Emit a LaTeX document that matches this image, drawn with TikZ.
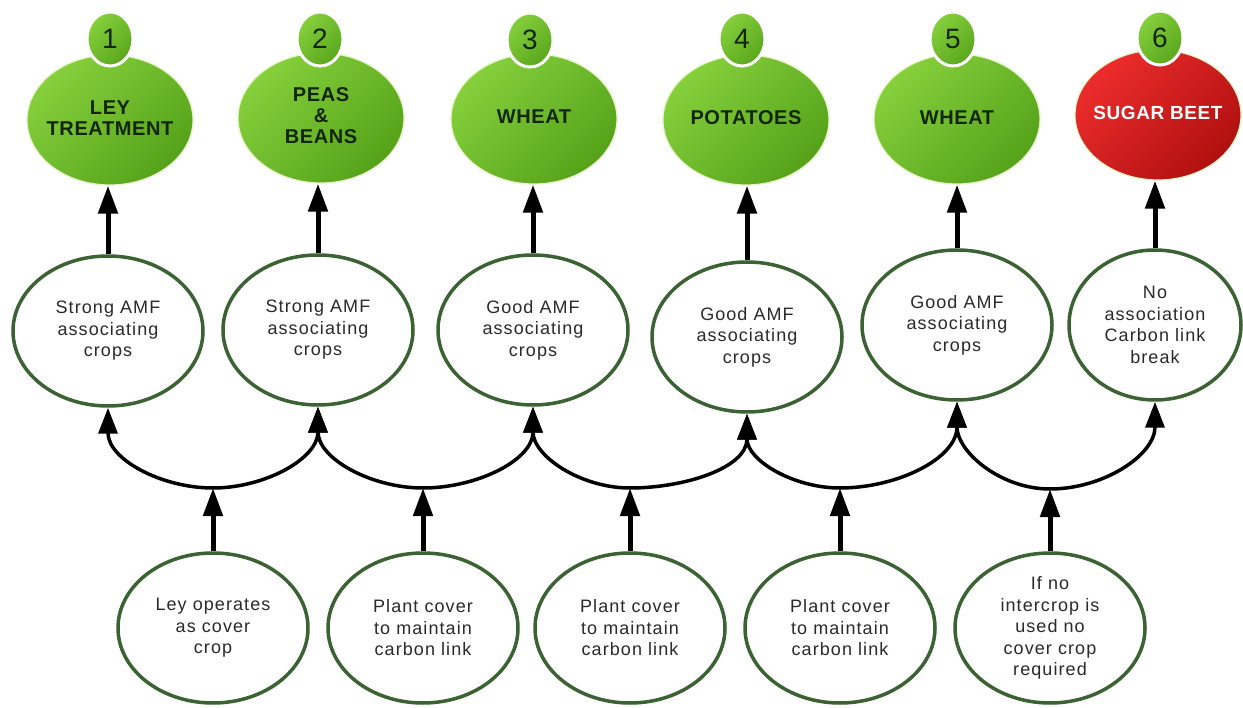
\documentclass[tikz,border=0pt]{standalone}
\usepackage{fontspec}
\setmainfont{Liberation Sans}
\newfontfamily\notefont{Liberation Sans}[LetterSpace=6]
\newfontfamily\cropfont{Liberation Sans}[LetterSpace=3]
\usetikzlibrary{shapes.geometric,arrows.meta}

\definecolor{leafL}{HTML}{86D03C}
\definecolor{leafD}{HTML}{55A21A}
\definecolor{leafpale}{HTML}{E6F4C6}
\definecolor{beetL}{HTML}{EC2C2C}
\definecolor{beetD}{HTML}{B01010}
\definecolor{rim}{HTML}{3B6233}
\definecolor{ink}{HTML}{2A2A2A}
\definecolor{cropink}{HTML}{14260A}

\tikzset{
  crop/.style={ellipse, minimum width=166pt, minimum height=130pt, inner sep=0pt,
    top color=leafL, bottom color=leafD, shading angle=45,
    draw=leafpale, line width=1.2pt},
  beet/.style={top color=beetL, bottom color=beetD, shading angle=45},
  croplabel/.style={align=center, inner sep=0pt, text=cropink,
    font=\cropfont\bfseries\fontsize{20}{21}\selectfont},
  badge/.style={ellipse, minimum width=46pt, minimum height=54pt, inner sep=0pt,
    top color=leafL, bottom color=leafD!90!leafL, shading angle=45,
    draw=white, line width=3pt, text=cropink, font=\fontsize{28}{28}\selectfont},
  note/.style={ellipse, minimum width=190pt, minimum height=150pt, inner sep=0pt,
    draw=rim, line width=3.5pt, fill=white, align=center, text=ink,
    font=\notefont\fontsize{18}{21.5}\selectfont},
  upline/.style={line width=5pt, -{Triangle[length=28pt,width=19pt]}},
  curvelink/.style={line width=3.5pt, -{Triangle[length=26pt,width=19pt]}}
}

\begin{document}
\begin{tikzpicture}[x=1pt,y=-1pt]
\fill[white] (0,0) rectangle (1243,708);
\useasboundingbox (0,0) rectangle (1243,708);

% crops of the rotation
\node[crop] (t1) at (110,120) {};
\node[crop] (t2) at (321,118) {};
\node[crop] (t3) at (534,119) {};
\node[crop] (t4) at (746,120) {};
\node[crop] (t5) at (957,119) {};
\node[crop,beet] (t6) at (1158,115) {};

\node[croplabel] (t1l) at (110,118) {LEY\\TREATMENT};
\node[croplabel] (t2l) at (321,116) {PEAS\\\&\\BEANS};
\node[croplabel] (t3l) at (534,117) {WHEAT};
\node[croplabel] (t4l) at (746,118) {POTATOES};
\node[croplabel] (t5l) at (957,118) {WHEAT};
\node[croplabel, text=white, font=\cropfont\bfseries\fontsize{19}{21}\selectfont] (t6l) at (1158,113) {SUGAR BEET};

% year badges
\node[badge] (n1) at (110,39) {1};
\node[badge] (n2) at (320,39) {2};
\node[badge] (n3) at (530,40) {3};
\node[badge] (n4) at (742,39) {4};
\node[badge] (n5) at (953,39) {5};
\node[badge] (n6) at (1160,38) {6};

% AMF association
\node[note] (m1) at (108,331) {Strong AMF\\associating\\crops};
\node[note] (m2) at (318,330) {Strong AMF\\associating\\crops};
\node[note] (m3) at (533,330) {Good AMF\\associating\\crops};
\node[note] (m4) at (747,337) {Good AMF\\associating\\crops};
\node[note] (m5) at (957,325) {Good AMF\\associating\\crops};
\node[note, minimum width=172pt] (m6) at (1155,325) {No\\association\\Carbon link\\break};

% cover crops between the main crops
\node[note] (b1) at (213,628) {Ley operates\\as cover\\crop};
\node[note] (b2) at (423,628) {Plant cover\\to maintain\\carbon link};
\node[note] (b3) at (630,628) {Plant cover\\to maintain\\carbon link};
\node[note] (b4) at (840,628) {Plant cover\\to maintain\\carbon link};
\node[note] (b5) at (1050,628) {If no\\intercrop is\\used no\\cover crop\\required};

% association feeds each crop
\foreach \i in {1,...,6}
  \draw[upline] (m\i.north) -- (m\i.north |- t\i.south);

% cover crops bridge neighbouring crops
\coordinate (j1) at (213,488);
\coordinate (j2) at (423,488);
\coordinate (j3) at (630,488);
\coordinate (j4) at (840,488);
\coordinate (j5) at (1050,489);

\foreach \i/\n in {1/2,2/3,3/4,4/5,5/6} {
  \draw[upline] (b\i.north) -- (j\i);
  \draw[curvelink] (j\i) to[out=180,in=-90] (m\i.south);
  \draw[curvelink] (j\i) to[out=0,in=-90] (m\n.south);
}
\end{tikzpicture}
\end{document}
